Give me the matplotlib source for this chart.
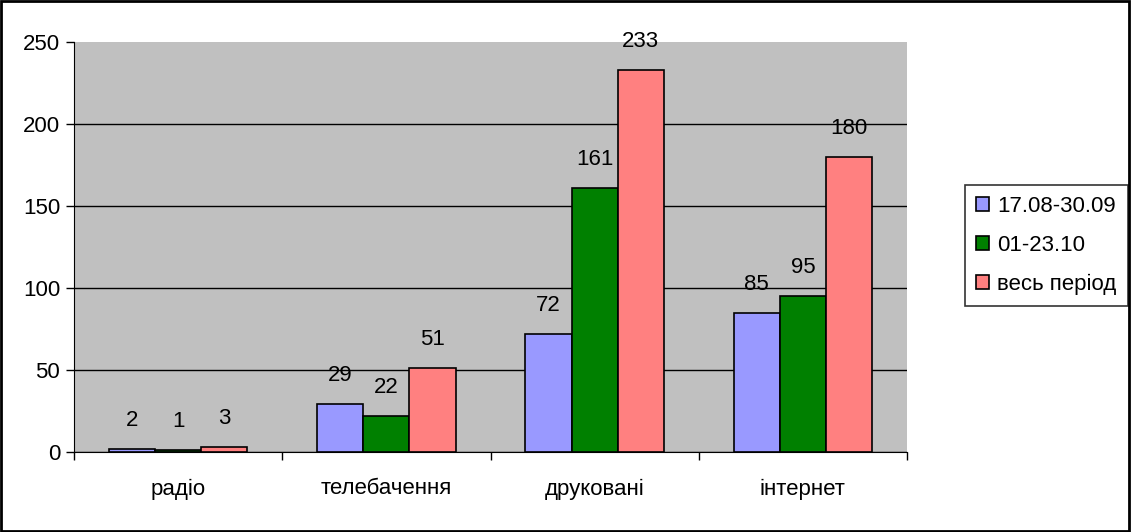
import matplotlib
matplotlib.use("Agg")
import matplotlib.pyplot as plt
import numpy as np

categories = ["радіо", "телебачення", "друковані", "інтернет"]
series_names = ["17.08-30.09", "01-23.10", "весь період"]
s1 = [2, 29, 72, 85]
s2 = [1, 22, 161, 95]
s3 = [3, 51, 233, 180]
colors = ["#9999FF", "#008000", "#FF8080"]

plt.rcParams['font.family'] = ['Liberation Sans', 'DejaVu Sans']
FS = 16

fig = plt.figure(figsize=(11.31, 5.32), dpi=100)
fig.patch.set_facecolor("white")
ax = fig.add_axes([74/1131, 80/532, (907-74)/1131, (452-42)/532])
ax.set_facecolor("#C0C0C0")

x = np.arange(len(categories))
w = 0.222
for i, (vals, c, name) in enumerate(zip([s1, s2, s3], colors, series_names)):
    pos = x + (i - 1) * w
    ax.bar(pos, vals, width=w, color=c, edgecolor="black", linewidth=1.2, label=name, zorder=3)
    for p, v in zip(pos, vals):
        ax.annotate(str(v), (p, v), xytext=(0, 13), textcoords="offset points",
                    ha="center", va="bottom", fontsize=FS)

ax.set_xlim(-0.5, 3.5)
ax.set_ylim(0, 250)
ax.set_yticks([0, 50, 100, 150, 200, 250])
ax.yaxis.grid(True, color="black", linewidth=1, zorder=1)
ax.get_ygridlines()[-1].set_visible(False)
ax.set_axisbelow(True)
ax.set_xticks(x)
ax.set_xticklabels(categories, fontsize=FS)
ax.tick_params(axis="x", length=0, pad=19)
ax.set_xticks([-0.5, 0.5, 1.5, 2.5, 3.5], minor=True)
ax.tick_params(axis="x", which="minor", length=6, width=1, direction="out")
ax.tick_params(axis="y", length=6, width=1, direction="out", labelsize=FS, pad=4)
for s in ["top", "right"]:
    ax.spines[s].set_visible(False)
ax.spines["left"].set_color("black")
ax.spines["bottom"].set_color("black")

leg = fig.legend(loc="upper left", bbox_to_anchor=(965/1131, 1 - 185/532), fontsize=FS,
                 frameon=True, fancybox=False, edgecolor="black", handlelength=0.6,
                 handleheight=0.6, handletextpad=0.35, labelspacing=0.8, borderpad=0.5,
                 borderaxespad=0)
leg.get_frame().set_linewidth(1.2)

fig.add_artist(plt.Rectangle((0.001, 0.002), 0.997, 0.996, transform=fig.transFigure,
                             fill=False, edgecolor="black", linewidth=2))
fig.savefig("out.png", dpi=100, facecolor="white")
